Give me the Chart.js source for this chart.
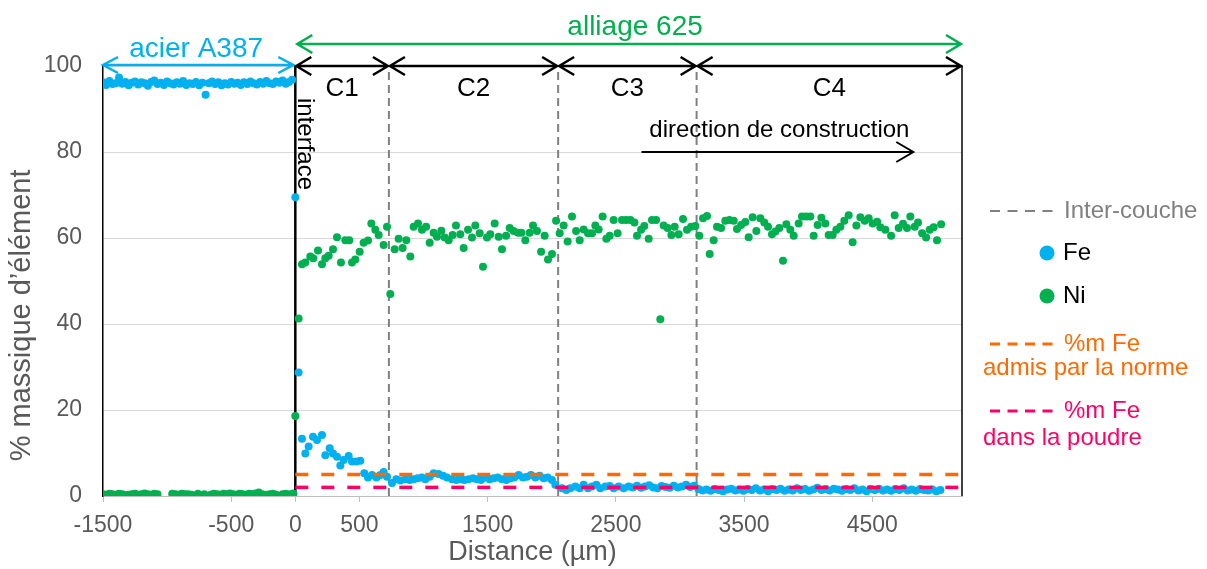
<!DOCTYPE html>
<html>
<head>
<meta charset="utf-8">
<script src="https://cdn.jsdelivr.net/npm/chart.js@4.4.0/dist/chart.umd.min.js"></script>
<style>
  html, body { margin: 0; padding: 0; background: #fff; }
  #profil { display: block; }
</style>
</head>
<body>
<canvas id="profil" width="1207" height="569"></canvas>
<script>
// axes (µm et %)
const xMin = -1500, xMax = 5200;
const xTicks = [-1500, -500, 0, 500, 1500, 2500, 3500, 4500];
const yTicks = [0, 20, 40, 60, 80, 100];

// repères du dépôt
const interCouches = [730, 2050, 3130];
const couches = ["C1", "C2", "C3", "C4"];
const feNorme = 5;   // %m Fe admis par la norme
const fePoudre = 2;  // %m Fe dans la poudre

// profil EDS : [distance µm, %m]
const feAcier = [[-1500,96.2],[-1475,95.6],[-1450,96.5],[-1425,95.8],[-1400,96.0],[-1375,97.3],[-1350,95.9],[-1325,96.3],[-1300,95.5],[-1275,96.1],[-1250,96.4],[-1225,95.7],[-1200,96.2],[-1175,96.0],[-1150,95.4],[-1125,96.3],[-1100,96.6],[-1075,95.8],[-1050,96.1],[-1025,95.6],[-1000,96.4],[-975,96.0],[-950,95.7],[-925,96.2],[-900,95.9],[-875,96.5],[-850,95.6],[-825,96.0],[-800,95.8],[-775,96.3],[-750,95.5],[-725,96.1],[-700,93.3],[-675,96.0],[-650,96.4],[-625,95.8],[-600,96.2],[-575,95.5],[-550,96.0],[-525,95.7],[-500,96.3],[-475,95.9],[-450,96.1],[-425,95.6],[-400,96.2],[-375,95.8],[-350,96.4],[-325,96.0],[-300,95.7],[-275,96.3],[-250,95.9],[-225,96.5],[-200,96.0],[-175,95.8],[-150,96.4],[-125,96.1],[-100,96.6],[-75,95.9],[-50,96.3],[-25,96.8]];

const niAcier = [[-1500,0.4],[-1475,0.3],[-1450,0.5],[-1425,0.4],[-1400,0.3],[-1375,0.5],[-1350,0.4],[-1325,0.2],[-1300,0.3],[-1275,0.4],[-1250,0.5],[-1225,0.3],[-1200,0.4],[-1175,0.6],[-1150,0.4],[-1125,0.3],[-1100,0.5],[-1075,0.4],[-960,0.5],[-935,0.4],[-910,0.3],[-885,0.5],[-860,0.4],[-835,0.4],[-810,0.3],[-760,0.5],[-710,0.4],[-660,0.3],[-635,0.5],[-610,0.4],[-585,0.3],[-560,0.5],[-535,0.4],[-510,0.6],[-485,0.4],[-460,0.3],[-435,0.5],[-410,0.4],[-385,0.3],[-360,0.5],[-335,0.4],[-310,0.6],[-285,0.8],[-260,0.4],[-235,0.3],[-200,0.4],[-175,0.5],[-150,0.3],[-100,0.4],[-75,0.5],[-40,0.4],[-15,0.6]];

const feAlliage = [[0,69.5],[26,28.7],[52,13.3],[78,9.9],[104,11.5],[138,13.8],[169,13.0],[208,14.2],[234,9.5],[268,11.1],[294,9.9],[325,9.1],[351,7.1],[377,8.4],[416,9.3],[442,8.0],[476,8.0],[507,8.2],[538,5.3],[567,4.3],[598,4.9],[632,4.3],[663,4.9],[689,5.6],[715,4.5],[754,3.0],[788,3.9],[819,3.6],[858,3.9],[892,3.7],[923,3.9],[954,4.1],[988,4.3],[1014,3.9],[1048,4.5],[1079,5.3],[1118,5.1],[1152,4.7],[1183,4.3],[1222,3.9],[1256,3.7],[1287,3.9],[1318,3.7],[1352,3.9],[1386,4.1],[1417,3.9],[1448,3.7],[1482,4.3],[1516,3.9],[1547,4.1],[1578,4.3],[1612,3.9],[1646,3.7],[1677,4.1],[1708,4.3],[1742,4.9],[1776,4.3],[1807,4.5],[1838,4.9],[1872,4.3],[1906,4.7],[1937,4.1],[1968,4.3],[2002,3.7],[2028,2.6],[2080,1.8],[2114,1.4],[2145,1.8],[2184,2.2],[2218,1.8],[2249,2.6],[2283,1.8],[2314,2.2],[2348,2.6],[2379,1.8],[2418,2.2],[2452,2.3],[2483,1.8],[2522,2.2],[2561,1.8],[2600,2.2],[2632,2.0],[2665,2.4],[2697,1.9],[2728,2.2],[2760,2.5],[2792,2.0],[2824,1.8],[2856,2.3],[2888,2.1],[2920,1.9],[2952,2.4],[2984,2.0],[3016,2.2],[3048,2.6],[3080,2.1],[3112,2.4],[3144,1.6],[3176,1.3],[3208,1.5],[3240,1.2],[3272,1.6],[3304,1.4],[3336,1.1],[3368,1.5],[3400,1.7],[3432,1.3],[3464,1.5],[3496,1.2],[3528,1.6],[3560,1.4],[3592,1.8],[3624,1.3],[3656,1.5],[3688,1.1],[3720,1.6],[3752,1.4],[3784,1.7],[3816,1.2],[3848,1.5],[3880,1.3],[3912,1.8],[3944,1.4],[3976,1.6],[4008,1.2],[4040,1.5],[4072,1.9],[4104,1.4],[4136,1.6],[4168,1.3],[4200,1.7],[4232,1.5],[4264,1.2],[4296,1.6],[4328,1.4],[4360,1.8],[4392,1.3],[4424,1.5],[4456,1.1],[4488,1.6],[4520,1.4],[4552,1.7],[4584,1.3],[4616,1.5],[4648,1.2],[4680,1.6],[4712,1.4],[4744,1.8],[4776,1.3],[4808,1.5],[4840,1.2],[4872,1.6],[4904,1.4],[4936,1.3],[4968,1.5],[5000,1.1],[5032,1.4]];

const niAlliage = [[0,18.6],[26,41.3],[52,53.9],[78,54.3],[117,55.7],[140,55.3],[177,57.1],[208,53.9],[234,55.3],[260,55.9],[294,57.4],[325,60.2],[356,54.3],[390,59.5],[421,59.5],[442,54.3],[468,55.0],[502,56.8],[533,58.9],[567,59.4],[593,63.4],[624,61.9],[650,60.7],[689,58.4],[715,62.6],[741,47.0],[775,57.4],[806,59.8],[837,57.7],[866,59.5],[897,55.7],[923,62.6],[957,63.4],[988,61.9],[1020,62.6],[1048,58.9],[1079,61.2],[1105,60.3],[1139,61.7],[1165,60.1],[1196,59.5],[1227,60.7],[1253,62.9],[1287,60.9],[1313,57.7],[1347,61.9],[1378,60.1],[1404,62.9],[1438,61.1],[1464,53.3],[1495,60.1],[1521,60.9],[1555,63.4],[1586,60.3],[1612,57.4],[1644,60.5],[1672,62.3],[1703,61.6],[1737,61.2],[1763,61.2],[1794,59.5],[1828,61.2],[1854,62.9],[1885,61.6],[1917,56.8],[1945,60.5],[1971,55.0],[2002,56.3],[2034,64.0],[2062,61.1],[2093,62.9],[2124,59.2],[2158,65.0],[2190,61.6],[2218,59.5],[2249,62.0],[2283,61.1],[2314,61.1],[2340,62.9],[2366,62.0],[2397,65.0],[2426,59.8],[2452,60.5],[2483,64.2],[2514,61.1],[2548,64.2],[2580,64.2],[2613,64.2],[2645,63.6],[2665,60.5],[2697,61.9],[2722,62.8],[2756,59.8],[2782,64.2],[2814,64.2],[2847,41.1],[2873,62.9],[2904,62.3],[2933,60.7],[2959,62.6],[2990,60.9],[3024,64.4],[3055,61.9],[3087,62.6],[3120,62.8],[3151,60.5],[3180,64.6],[3211,65.1],[3232,56.3],[3263,59.5],[3289,62.6],[3321,62.3],[3354,64.0],[3385,64.2],[3419,64.0],[3445,62.1],[3477,63.0],[3510,63.7],[3536,60.2],[3567,64.8],[3596,61.6],[3627,64.6],[3658,63.6],[3687,62.6],[3718,60.9],[3744,61.5],[3775,62.3],[3804,54.7],[3830,63.2],[3861,61.9],[3887,60.5],[3926,63.4],[3952,65.0],[3984,65.0],[4017,65.0],[4043,60.5],[4074,63.0],[4103,64.7],[4134,63.4],[4160,60.7],[4191,60.7],[4220,61.9],[4251,62.6],[4282,64.0],[4316,65.3],[4347,59.0],[4376,62.9],[4407,64.8],[4441,64.0],[4472,64.6],[4503,63.4],[4538,63.8],[4563,62.5],[4602,61.9],[4647,60.5],[4675,65.3],[4706,62.3],[4740,63.3],[4771,62.3],[4797,65.0],[4831,62.6],[4857,63.6],[4889,61.1],[4920,60.1],[4948,61.9],[4979,62.5],[5005,59.5],[5037,63.2]];

const BLEU = "#00b0f0", VERT = "#00b050", ORANGE = "#ff6a00", ROSE = "#ff0066", GRIS = "#808080";
const FONT = "'Liberation Sans', Arial, sans-serif";
Chart.defaults.font.family = FONT;

const toXY = (arr) => arr.map(([x, y]) => ({ x, y }));

function refLine(data, color, dash, width, order) {
  return { data, showLine: true, borderColor: color, borderWidth: width, borderDash: dash,
           pointRadius: 0, fill: false, order };
}

function nuage(data, color) {
  return { data: toXY(data), backgroundColor: color, borderWidth: 0, pointRadius: 4, order: 1 };
}

// flèche horizontale, pointes ouvertes aux deux bouts
function fleche(ctx, x1, x2, y, color, width, hx, hy) {
  ctx.save();
  ctx.strokeStyle = color;
  ctx.lineWidth = width;
  ctx.beginPath();
  ctx.moveTo(x1, y); ctx.lineTo(x2, y);
  ctx.moveTo(x2 - hx, y - hy); ctx.lineTo(x2, y); ctx.lineTo(x2 - hx, y + hy);
  ctx.moveTo(x1 + hx, y - hy); ctx.lineTo(x1, y); ctx.lineTo(x1 + hx, y + hy);
  ctx.stroke();
  ctx.restore();
}

function texte(ctx, str, x, y, color, size, align, baseline) {
  ctx.fillStyle = color;
  ctx.font = size + "px " + FONT;
  ctx.textAlign = align || "center";
  ctx.textBaseline = baseline || "alphabetic";
  ctx.fillText(str, x, y);
}

function tirets(ctx, x1, x2, y, color, width, dash) {
  ctx.save();
  ctx.strokeStyle = color;
  ctx.lineWidth = width;
  ctx.setLineDash(dash);
  ctx.beginPath(); ctx.moveTo(x1, y); ctx.lineTo(x2, y); ctx.stroke();
  ctx.restore();
}

const annotations = {
  id: "annotations",
  afterDraw(chart) {
    const { ctx, chartArea: a, scales: { x, y } } = chart;
    const px = (v) => x.getPixelForValue(v);
    ctx.save();

    // titre de l'axe Y (un peu décalé vers le bas, comme dans l'original)
    ctx.save();
    ctx.translate(22, y.getPixelForValue(42));
    ctx.rotate(-Math.PI / 2);
    texte(ctx, "% massique d’élément", 0, 0, "#595959", 29, "center", "middle");
    ctx.restore();

    // bord droit
    ctx.strokeStyle = "#000";
    ctx.lineWidth = 1.5;
    ctx.beginPath(); ctx.moveTo(a.right, a.top); ctx.lineTo(a.right, a.bottom); ctx.stroke();

    // acier / alliage
    fleche(ctx, a.left, px(0) - 2, a.top - 1, BLEU, 2.5, 15, 8);
    texte(ctx, "acier A387", (a.left + px(0)) / 2 - 3, a.top - 9, BLEU, 28);
    fleche(ctx, px(0) + 2, a.right - 1, a.top - 22, VERT, 2.5, 15, 9);
    texte(ctx, "alliage 625", px(2650), a.top - 31, VERT, 28);

    // couches C1..C4
    const bornes = [0, ...interCouches, xMax];
    couches.forEach((c, i) => {
      const x1 = px(bornes[i]), x2 = px(bornes[i + 1]);
      fleche(ctx, x1 + 1, x2 - 1, a.top, "#000", 2.5, 15, 9);
      texte(ctx, c, (x1 + x2) / 2, a.top + 30, "#000", 26);
    });

    // interface
    ctx.save();
    ctx.translate(px(0) + 3, a.top + 32);
    ctx.rotate(Math.PI / 2);
    texte(ctx, "interface", 0, 0, "#000", 24, "left", "alphabetic");
    ctx.restore();

    // direction de construction
    const yDir = y.getPixelForValue(80);
    const xd1 = px(2700), xd2 = px(4820);
    ctx.strokeStyle = "#000";
    ctx.lineWidth = 2;
    ctx.beginPath();
    ctx.moveTo(xd1, yDir); ctx.lineTo(xd2, yDir);
    ctx.moveTo(xd2 - 17, yDir - 10); ctx.lineTo(xd2, yDir); ctx.lineTo(xd2 - 17, yDir + 10);
    ctx.stroke();
    texte(ctx, "direction de construction", (xd1 + xd2) / 2 + 2, yDir - 15, "#000", 24);

    // légende
    tirets(ctx, 990, 1054, 211, GRIS, 2, [10, 7.5]);
    texte(ctx, "Inter-couche", 1064, 211, GRIS, 24, "left", "middle");
    ctx.fillStyle = BLEU;
    ctx.beginPath(); ctx.arc(1047, 253, 7.5, 0, Math.PI * 2); ctx.fill();
    texte(ctx, "Fe", 1063, 253, "#000", 24, "left", "middle");
    ctx.fillStyle = VERT;
    ctx.beginPath(); ctx.arc(1047, 296, 7.5, 0, Math.PI * 2); ctx.fill();
    texte(ctx, "Ni", 1063, 296, "#000", 24, "left", "middle");
    tirets(ctx, 990, 1054, 344, ORANGE, 3, [10, 7.5]);
    texte(ctx, "%m Fe", 1064, 344, ORANGE, 24, "left", "middle");
    texte(ctx, "admis par la norme", 983, 368, ORANGE, 24, "left", "middle");
    tirets(ctx, 990, 1054, 411, ROSE, 3, [10, 7.5]);
    texte(ctx, "%m Fe", 1064, 411, ROSE, 24, "left", "middle");
    texte(ctx, "dans la poudre", 983, 438, ROSE, 24, "left", "middle");

    ctx.restore();
  }
};

const datasets = [
  refLine([{ x: 0, y: feNorme }, { x: xMax, y: feNorme }], ORANGE, [13, 13], 3.5, 0),
  refLine([{ x: 0, y: fePoudre }, { x: xMax, y: fePoudre }], ROSE, [13, 13], 3.5, 0),
  nuage(feAcier.concat(feAlliage), BLEU),
  nuage(niAcier.concat(niAlliage), VERT),
  refLine([{ x: 0, y: 0 }, { x: 0, y: 100 }], "#000", [], 2.5, 2),
  ...interCouches.map((v) => refLine([{ x: v, y: 0 }, { x: v, y: 100 }], GRIS, [8, 5], 2, 2)),
];

const ctx = document.getElementById("profil").getContext("2d");
new Chart(ctx, {
  type: "scatter",
  data: { datasets },
  plugins: [annotations],
  options: {
    responsive: false,
    animation: false,
    devicePixelRatio: 1,
    layout: { padding: { top: 66, right: 245, left: 0, bottom: 0 } },
    plugins: { legend: { display: false }, tooltip: { enabled: false } },
    scales: {
      x: {
        type: "linear",
        min: xMin,
        max: xMax,
        afterBuildTicks: (s) => { s.ticks = xTicks.map((v) => ({ value: v })); },
        afterFit: (s) => { s.height = 73; },
        grid: { drawOnChartArea: false, drawTicks: true, tickLength: 6, color: "#bfbfbf" },
        border: { color: "#bfbfbf", width: 1 },
        ticks: {
          color: "#595959",
          font: { size: 23 },
          padding: 10,
          maxRotation: 0,
          autoSkip: false,
          callback: (v) => String(v),
        },
        title: { display: true, text: "Distance (µm)", color: "#595959", font: { size: 27 }, padding: 0 },
      },
      y: {
        min: 0,
        max: 100,
        afterBuildTicks: (s) => { s.ticks = yTicks.map((v) => ({ value: v })); },
        afterFit: (s) => { s.width = 103; },
        grid: { color: "#d9d9d9", drawTicks: false },
        border: { color: "#000", width: 1.5 },
        ticks: { color: "#595959", font: { size: 23 }, padding: 21, callback: (v) => String(v) },
      },
    },
  },
});
</script>
</body>
</html>
